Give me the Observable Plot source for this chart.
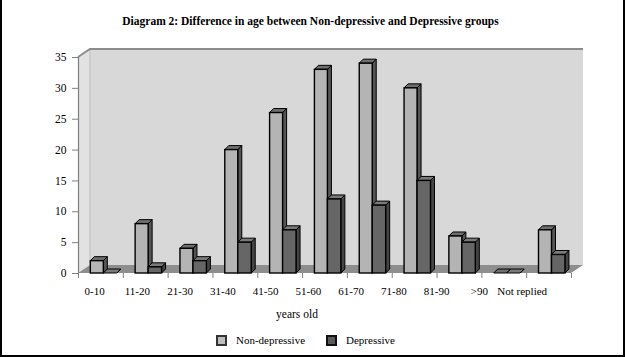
<!DOCTYPE html>
<html>
<head>
<meta charset="utf-8">
<script src="https://cdn.jsdelivr.net/npm/d3@7"></script>
<script src="https://cdn.jsdelivr.net/npm/@observablehq/plot@0.6"></script>
<style>
  html, body { margin: 0; padding: 0; background: #fff; }
  #chart { position: relative; width: 625px; height: 357px; overflow: hidden; font-family: "Liberation Serif", "Times New Roman", serif; color: #000; }
  #border { position: absolute; left: 0; top: -2px; width: 625px; height: 359px; box-sizing: border-box; border: 2px solid #000; }
  #title { position: absolute; left: 0; width: 621px; top: 14px; text-align: center; font-weight: bold; font-size: 11.5px; line-height: 14px; }
  #plot { position: absolute; left: 0; top: 38px; }
  #plot svg [aria-label*="axis"] line, #plot svg [aria-label*="axis"] path { stroke: #808080; }
  #legend { position: absolute; left: 216px; top: 333px; display: flex; align-items: center; font-size: 11px; line-height: 14px; }
  .sw { width: 11px; height: 11px; box-sizing: border-box; border: 2px solid #333; margin-right: 9px; }
</style>
</head>
<body>
<div id="chart">
  <div id="title">Diagram 2: Difference in age between Non-depressive and Depressive groups</div>
  <div id="plot"></div>
  <div id="legend">
    <div class="sw" style="background:#bdbdbd"></div><span style="margin-right:21px">Non-depressive</span>
    <div class="sw" style="background:#5a5a5a;border-color:#111"></div><span>Depressive</span>
  </div>
  <div id="border"></div>
</div>
<script>
const categories = ["0-10", "11-20", "21-30", "31-40", "41-50", "51-60", "61-70", "71-80", "81-90", ">90", "Not replied"];
const nonDepressive = [2, 8, 4, 20, 26, 33, 34, 30, 6, 0, 7];
const depressive = [0, 1, 2, 5, 7, 12, 11, 15, 5, 0, 3];
const yTicks = [0, 5, 10, 15, 20, 25, 30, 35];
const xAxisTitle = "years old";

// layout constants (styling, not data)
const WX = 12, WY = 8;   // wall depth in px
const BX = 4, BY = 4;    // bar depth in px
const ND = {a: 0.275, b: 0.565, front: "#b4b4b4", top: "#6e6e6e", side: "#555555"};
const DP = {a: 0.565, b: 0.865, front: "#666666", top: "#7a7a7a", side: "#444444"};
const labelPos = i => 0.36 + 0.954 * i;

const rows = (vals) => vals.map((v, i) => ({i, v, cat: categories[i]}));
const ndRows = rows(nonDepressive);
const dpRows = rows(depressive);

function walls(index, scales) {
  const x = scales.x, y = scales.y;
  const g = d3.create("svg:g");
  const x0 = x(0), x1 = x(categories.length), y0 = y(0), y1 = y(d3.max(yTicks));
  g.append("path").attr("d", `M${x0},${y0}L${x0},${y1}L${x0+WX},${y1-WY}L${x0+WX},${y0-WY}Z`).attr("fill", "#e2e2e2");
  g.append("path").attr("d", `M${x0+WX},${y0-WY}V${y1-WY}H${x1+WX}V${y0-WY}Z`).attr("fill", "#d8d8d8");
  g.append("path").attr("d", `M${x0},${y0}L${x0+WX},${y0-WY}H${x1+WX}L${x1},${y0}Z`).attr("fill", "#8e8e8e");
  g.append("path").attr("d", `M${x0+WX},${y0-WY}V${y1-WY}`).attr("stroke", "#bdbdbd").attr("fill", "none");
  g.append("path").attr("d", `M${x0},${y1}L${x0+WX},${y1-WY}H${x1+WX}`).attr("fill", "none").attr("stroke", "#8c8c8c").attr("stroke-width", 2);
  return g.node();
}

function faces(data, st) {
  return (index, scales) => {
    const x = scales.x, y = scales.y;
    const g = d3.create("svg:g").attr("stroke", "#000").attr("stroke-width", 1).attr("stroke-linejoin", "round");
    for (const d of data) {
      const xl = x(d.i + st.a), xr = x(d.i + st.b), yt = y(d.v), yb = y(0);
      g.append("path").attr("fill", st.side)
        .attr("d", `M${xr},${yt}L${xr+BX},${yt-BY}V${yb-BY}L${xr},${yb}Z`);
      g.append("path").attr("fill", st.top)
        .attr("d", `M${xl},${yt}L${xl+BX},${yt-BY}H${xr+BX}L${xr},${yt}Z`);
    }
    return g.node();
  };
}

const plot = Plot.plot({
  width: 625,
  height: 290,
  marginTop: 19,
  marginBottom: 55,
  marginLeft: 78,
  marginRight: 54,
  style: {fontFamily: "'Liberation Serif', 'Times New Roman', serif", fontSize: "11.5px", background: "transparent", color: "#000", overflow: "visible"},
  x: {domain: [0, categories.length], ticks: d3.range(categories.length + 1), tickSize: 5, tickFormat: () => "", label: null},
  y: {domain: [0, d3.max(yTicks)], ticks: yTicks, tickSize: 6, tickPadding: 6, label: null},
  marks: [
    walls,
    Plot.ruleX([0], {stroke: "#7f7f7f", strokeWidth: 1.2}),
    faces(ndRows, ND),
    Plot.rect(ndRows, {x1: d => d.i + ND.a, x2: d => d.i + ND.b, y1: 0, y2: "v", fill: ND.front, stroke: "#000", strokeWidth: 1.4}),
    faces(dpRows, DP),
    Plot.rect(dpRows, {x1: d => d.i + DP.a, x2: d => d.i + DP.b, y1: 0, y2: "v", fill: DP.front, stroke: "#000", strokeWidth: 1.4}),
    Plot.text(categories, {x: (d, i) => labelPos(i), frameAnchor: "bottom", dy: 21.5, fontSize: 11, fill: "#000"}),
    Plot.text([xAxisTitle], {frameAnchor: "bottom", dx: -28, dy: 44, fontSize: 11.5, fill: "#000"})
  ]
});
document.getElementById("plot").appendChild(plot);
</script>
</body>
</html>
